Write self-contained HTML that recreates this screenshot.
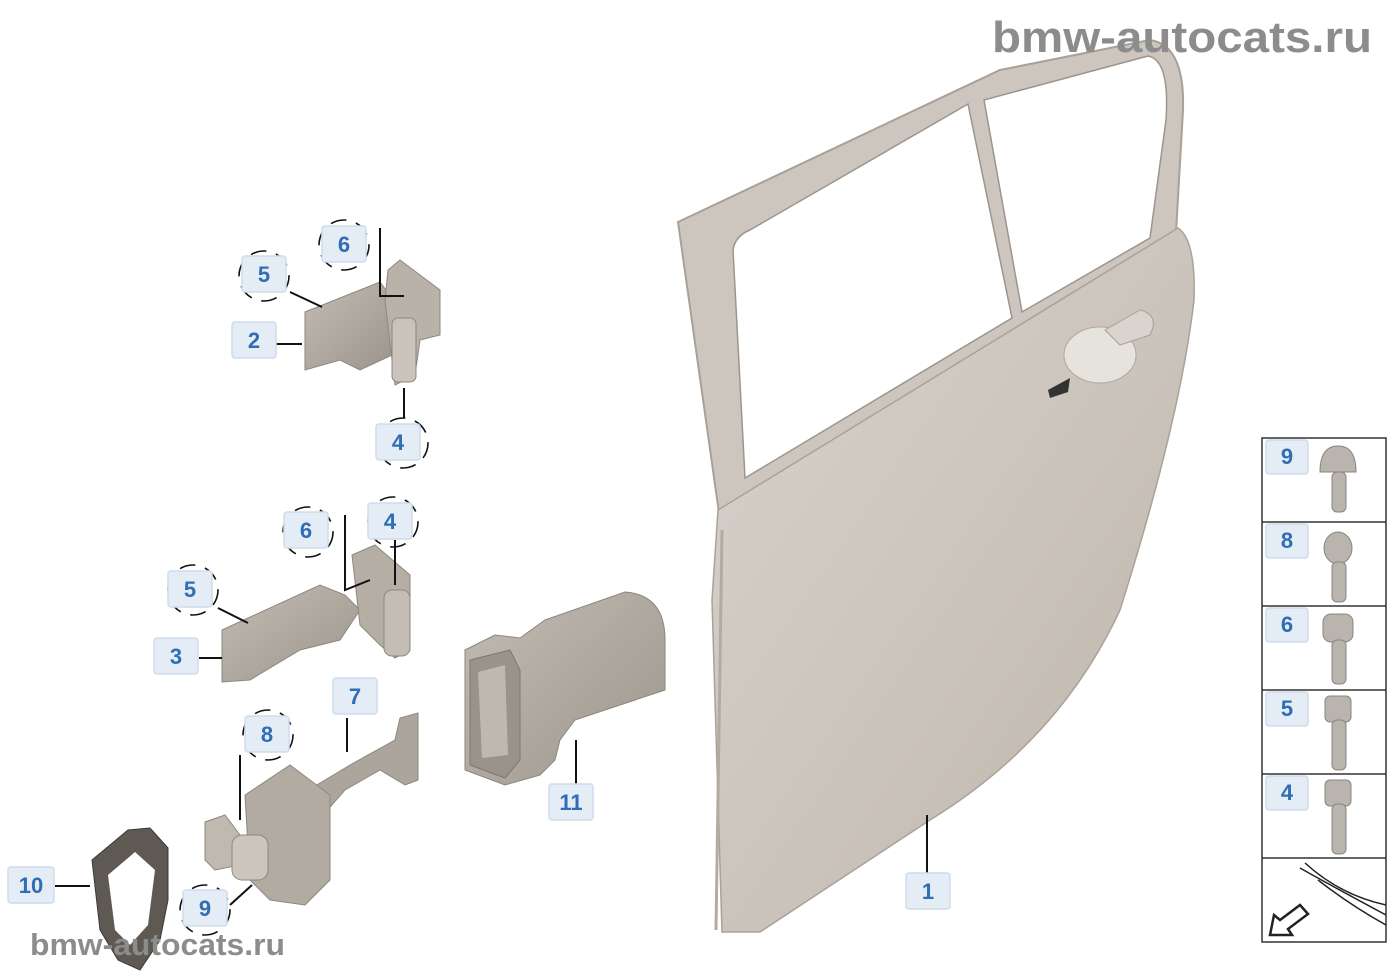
<!DOCTYPE html>
<html><head><meta charset="utf-8"><style>
html,body{margin:0;padding:0;background:#fff;width:1400px;height:980px;overflow:hidden}
svg{display:block}
.lb{fill:#e4ecf6;stroke:#d0dcec;stroke-width:1.5}
.lt{font-family:"Liberation Sans",sans-serif;font-weight:bold;font-size:22px;fill:#2f6db5;text-anchor:middle}
.ln{stroke:#111;stroke-width:2;fill:none}
.dc{fill:none;stroke:#111;stroke-width:1.6;stroke-dasharray:16 10}
.wm{font-family:"Liberation Sans",sans-serif;font-weight:bold;fill:#8c8c8c}
</style></head><body>
<svg width="1400" height="980" viewBox="0 0 1400 980">
<defs>
<linearGradient id="dg" x1="0" y1="0" x2="1" y2="1">
<stop offset="0" stop-color="#d8d3cd"/><stop offset="0.6" stop-color="#c9c2b9"/><stop offset="1" stop-color="#b8b0a6"/></linearGradient>
<linearGradient id="pg" x1="0" y1="0" x2="1" y2="1">
<stop offset="0" stop-color="#c2bcb4"/><stop offset="1" stop-color="#9c958c"/></linearGradient>
</defs>
<path d="M678,222 L1000,70 L1150,40 Q1185,45 1183,110 L1175,250 L740,500 L720,520 Z" fill="#cdc6be" stroke="#a9a198" stroke-width="2"/>
<path d="M733,250 Q735,236 750,230 L968,104 L1012,318 L745,478 Z" fill="#fff" stroke="#9d958c" stroke-width="1.5"/>
<path d="M984,100 L1148,56 Q1170,60 1166,120 L1150,238 L1022,312 Z" fill="#fff" stroke="#9d958c" stroke-width="1.5"/>
<path d="M718,510 L1178,228 Q1196,240 1194,300 Q1180,420 1120,610 Q1060,740 930,820 L760,932 L722,932 L712,600 Z" fill="url(#dg)" stroke="#aaa299" stroke-width="1.5"/>
<path d="M722,530 L716,930" stroke="#b3aba1" stroke-width="3"/>
<ellipse cx="1100" cy="355" rx="36" ry="28" fill="#e6e2dc" stroke="#b0a89e"/>
<path d="M1105,330 L1140,310 Q1160,315 1150,335 L1120,345 Z" fill="#d9d4ce" stroke="#a8a096"/>
<path d="M1048,390 L1070,378 L1068,392 L1050,398 Z" fill="#333"/>
<path d="M305,312 L380,282 L392,298 L392,355 L360,370 L340,360 L305,370 Z" fill="url(#pg)" stroke="#8e877e"/>
<path d="M388,270 L400,260 L440,290 L440,335 L420,340 L415,375 L395,385 L385,300 Z" fill="#b9b2a9" stroke="#8e877e"/>
<rect x="392" y="318" width="24" height="64" rx="6" fill="#c9c3bb" stroke="#8e877e"/>
<path d="M222,630 L320,585 L345,595 L360,610 L340,640 L300,650 L250,680 L222,682 Z" fill="url(#pg)" stroke="#8e877e"/>
<path d="M352,555 L375,545 L410,575 L410,650 L395,658 L380,645 L360,625 Z" fill="#b5aea5" stroke="#8e877e"/>
<rect x="384" y="590" width="26" height="66" rx="8" fill="#c3bdb5" stroke="#8e877e"/>
<path d="M300,795 L350,765 L395,740 L400,718 L418,713 L418,780 L405,785 L380,770 L345,790 L310,830 Z" fill="#aca59c" stroke="#8e877e"/>
<path d="M245,795 L290,765 L330,795 L330,880 L305,905 L270,900 L250,880 Z" fill="#b2aba2" stroke="#8e877e"/>
<path d="M205,822 L225,815 L240,835 L240,865 L215,870 L205,860 Z" fill="#c0b9b0" stroke="#8e877e"/>
<rect x="232" y="835" width="36" height="45" rx="10" fill="#cbc5bd" stroke="#8e877e"/>
<path d="M92,860 L128,830 L150,828 L168,848 L168,900 L160,940 L140,970 L118,960 L100,930 Z" fill="#5f5954" stroke="#3d3834"/>
<path d="M108,875 L135,852 L155,870 L148,925 L130,945 L115,930 Z" fill="#fff"/>
<path d="M465,650 L495,635 L520,638 L545,620 L625,592 Q665,595 665,640 L665,690 L575,720 L560,740 L555,760 L540,775 L505,785 L465,770 Z" fill="url(#pg)" stroke="#8e877e"/>
<path d="M470,660 L510,650 L520,670 L520,760 L505,778 L470,765 Z" fill="#9a938a" stroke="#7e776e"/>
<path d="M478,672 L505,665 L508,755 L482,758 Z" fill="#bfb8b0"/>
<path class="ln" d="M380,228 L380,296 L404,296 M290,292 L322,307 M276,344 L302,344 M404,388 L404,418 M345,515 L345,590 L370,580 M395,540 L395,585 M218,608 L248,623 M199,658 L222,658 M347,718 L347,752 M240,755 L240,820 M230,905 L252,885 M55,886 L90,886 M576,740 L576,786 M927,815 L927,874"/>
<circle class="dc" cx="344" cy="245" r="25"/>
<circle class="dc" cx="264" cy="276" r="25"/>
<circle class="dc" cx="403" cy="443" r="25"/>
<circle class="dc" cx="308" cy="532" r="25"/>
<circle class="dc" cx="393" cy="522" r="25"/>
<circle class="dc" cx="193" cy="590" r="25"/>
<circle class="dc" cx="268" cy="735" r="25"/>
<circle class="dc" cx="205" cy="910" r="25"/>
<g>
<rect class="lb" x="322" y="226" width="44" height="36" rx="3"/><text class="lt" x="344" y="252">6</text>
<rect class="lb" x="242" y="256" width="44" height="36" rx="3"/><text class="lt" x="264" y="282">5</text>
<rect class="lb" x="232" y="322" width="44" height="36" rx="3"/><text class="lt" x="254" y="348">2</text>
<rect class="lb" x="376" y="424" width="44" height="36" rx="3"/><text class="lt" x="398" y="450">4</text>
<rect class="lb" x="284" y="512" width="44" height="36" rx="3"/><text class="lt" x="306" y="538">6</text>
<rect class="lb" x="368" y="503" width="44" height="36" rx="3"/><text class="lt" x="390" y="529">4</text>
<rect class="lb" x="168" y="571" width="44" height="36" rx="3"/><text class="lt" x="190" y="597">5</text>
<rect class="lb" x="154" y="638" width="44" height="36" rx="3"/><text class="lt" x="176" y="664">3</text>
<rect class="lb" x="333" y="678" width="44" height="36" rx="3"/><text class="lt" x="355" y="704">7</text>
<rect class="lb" x="245" y="716" width="44" height="36" rx="3"/><text class="lt" x="267" y="742">8</text>
<rect class="lb" x="549" y="784" width="44" height="36" rx="3"/><text class="lt" x="571" y="810">11</text>
<rect class="lb" x="183" y="890" width="44" height="36" rx="3"/><text class="lt" x="205" y="916">9</text>
<rect class="lb" x="8" y="867" width="46" height="36" rx="3"/><text class="lt" x="31" y="893">10</text>
<rect class="lb" x="906" y="873" width="44" height="36" rx="3"/><text class="lt" x="928" y="899">1</text>
</g>
<g stroke="#333" stroke-width="1.5" fill="none">
<rect x="1262" y="438" width="124" height="504"/>
<path d="M1262,522 H1386 M1262,606 H1386 M1262,690 H1386 M1262,774 H1386 M1262,858 H1386"/>
</g>
<g>
<rect class="lb" x="1266" y="440" width="42" height="34" rx="3"/><text class="lt" x="1287" y="464">9</text>
<rect class="lb" x="1266" y="524" width="42" height="34" rx="3"/><text class="lt" x="1287" y="548">8</text>
<rect class="lb" x="1266" y="608" width="42" height="34" rx="3"/><text class="lt" x="1287" y="632">6</text>
<rect class="lb" x="1266" y="692" width="42" height="34" rx="3"/><text class="lt" x="1287" y="716">5</text>
<rect class="lb" x="1266" y="776" width="42" height="34" rx="3"/><text class="lt" x="1287" y="800">4</text>
</g>
<g fill="#b9b4ae" stroke="#8a857f">
<path d="M1320,472 Q1320,446 1338,446 Q1356,446 1356,472 Z"/><rect x="1332" y="472" width="14" height="40" rx="5"/>
<ellipse cx="1338" cy="548" rx="14" ry="16"/><rect x="1332" y="562" width="14" height="40" rx="5"/>
<rect x="1323" y="614" width="30" height="28" rx="8"/><rect x="1332" y="640" width="14" height="44" rx="5"/>
<rect x="1325" y="696" width="26" height="26" rx="5"/><rect x="1332" y="720" width="14" height="50" rx="5"/>
<rect x="1325" y="780" width="26" height="26" rx="5"/><rect x="1332" y="804" width="14" height="50" rx="5"/>
</g>
<g stroke="#222" stroke-width="1.5" fill="none">
<path d="M1300,868 Q1330,885 1386,915 M1305,863 Q1340,895 1386,905 M1318,880 Q1350,905 1386,925"/>
<path d="M1270,935 L1274,915 L1280,920 L1300,905 L1308,914 L1288,929 L1292,935 Z" fill="#fff" stroke-width="2.5"/>
</g>
<text class="wm" x="992" y="52" font-size="44" textLength="380" lengthAdjust="spacingAndGlyphs">bmw-autocats.ru</text>
<text class="wm" x="30" y="955" font-size="31" textLength="255" lengthAdjust="spacingAndGlyphs">bmw-autocats.ru</text>
</svg>
</body></html>
